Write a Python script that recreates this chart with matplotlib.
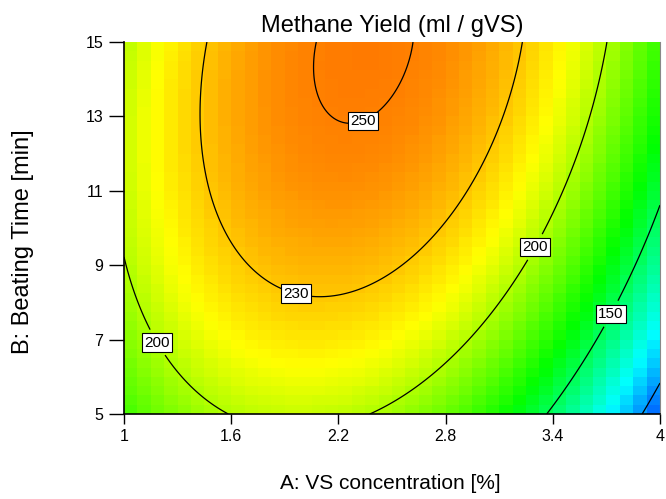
import numpy as np
import matplotlib.pyplot as plt
from matplotlib.colors import LinearSegmentedColormap

plt.rcParams['font.family'] = ['Liberation Sans', 'DejaVu Sans']

# points picked along each contour line: (A, B) pairs and the yield level
pts_250 = [(2.10, 15.0), (2.05, 13.8), (2.28, 12.42), (2.35, 12.7), (2.62, 15.0)]
pts_230 = [(1.48, 15.0), (1.425, 12.8), (1.52, 10.3), (1.97, 8.36), (2.10, 8.01), (2.45, 8.52), (3.24, 15.0)]
pts_200 = [(1.0, 9.0), (1.20, 6.96), (1.60, 5.0), (2.38, 5.0), (3.30, 9.49), (3.48, 12.0), (3.715, 15.0)]
pts_150 = [(3.37, 5.0), (3.72, 7.71), (4.0, 10.4)]
pts_100 = [(3.90, 5.0), (4.0, 5.83)]
levels = [100, 150, 200, 230, 250]

label_pos = [(2.35, 12.7), (1.97, 8.36), (1.2, 6.96), (3.30, 9.49), (3.72, 7.71)]
x_ticks = [1, 1.6, 2.2, 2.8, 3.4, 4]
y_ticks = [5, 7, 9, 11, 13, 15]

# colour scale: yield value -> colour
c_vals = [95, 120, 165, 216, 232, 246, 260, 280]
c_cols = ['#0070ff', '#00ffff', '#00ff00', '#ffff00', '#ffc000', '#ff8c00', '#ff6400', '#ff2000']

# quadratic response surface through the contour points
rows, vals = [], []
for lev, pts in zip(levels, [pts_100, pts_150, pts_200, pts_230, pts_250]):
    for a, b in pts:
        rows.append([1, a, b, a * b, a * a, b * b])
        vals.append(lev)
coef, *_ = np.linalg.lstsq(np.array(rows), np.array(vals, dtype=float), rcond=None)


def model(a, b):
    return coef[0] + coef[1] * a + coef[2] * b + coef[3] * a * b + coef[4] * a * a + coef[5] * b * b


vmin, vmax = c_vals[0], c_vals[-1]
cmap = LinearSegmentedColormap.from_list(
    'de', [((v - vmin) / (vmax - vmin), c) for v, c in zip(c_vals, c_cols)])

fig = plt.figure(figsize=(6.66, 4.99), dpi=100)
ax = fig.add_axes([0.1862, 0.1703, 0.8048, 0.7455])

# blocky colour fill
xe = np.linspace(1, 4, 41)
ye = np.linspace(5, 15, 41)
xc = (xe[:-1] + xe[1:]) / 2
yc = (ye[:-1] + ye[1:]) / 2
Zc = model(*np.meshgrid(xc, yc))
ax.pcolormesh(xe, ye, Zc, cmap=cmap, vmin=vmin, vmax=vmax, shading='flat')

# smooth contour lines
xf = np.linspace(1, 4, 300)
yf = np.linspace(5, 15, 300)
Zf = model(*np.meshgrid(xf, yf))
ax.contour(xf, yf, Zf, levels=levels[:1], colors='black', linewidths=0.9)
cs = ax.contour(xf, yf, Zf, levels=levels[1:], colors='black', linewidths=0.9)
labels = ax.clabel(cs, fmt='%d', fontsize=11, inline=True,
                   inline_spacing=2, manual=label_pos)
for t in labels:
    t.set_rotation(0)
    t.set_bbox(dict(facecolor='white', edgecolor='black', linewidth=0.8, pad=1.6))

ax.set_xlim(1, 4)
ax.set_ylim(5, 15)
ax.set_xticks(x_ticks)
ax.set_xticklabels(['1', '1.6', '2.2', '2.8', '3.4', '4'])
ax.set_yticks(y_ticks)
ax.tick_params(direction='out', width=1, labelsize=11.5)
ax.tick_params(axis='x', length=7, pad=4)
ax.tick_params(axis='y', length=11, pad=4)

ax.spines['top'].set_visible(False)
ax.spines['right'].set_color('#888888')
ax.spines['left'].set_linewidth(1.2)
ax.spines['bottom'].set_linewidth(1.2)

ax.set_title('Methane Yield (ml / gVS)', fontsize=17, pad=7)
ax.set_xlabel('A: VS concentration [%]', fontsize=15)
ax.set_ylabel('B: Beating Time [min]', fontsize=17)
ax.xaxis.set_label_coords(0.496, -0.16)
ax.yaxis.set_label_coords(-0.168, 0.462)

plt.savefig('out.png', dpi=100)
